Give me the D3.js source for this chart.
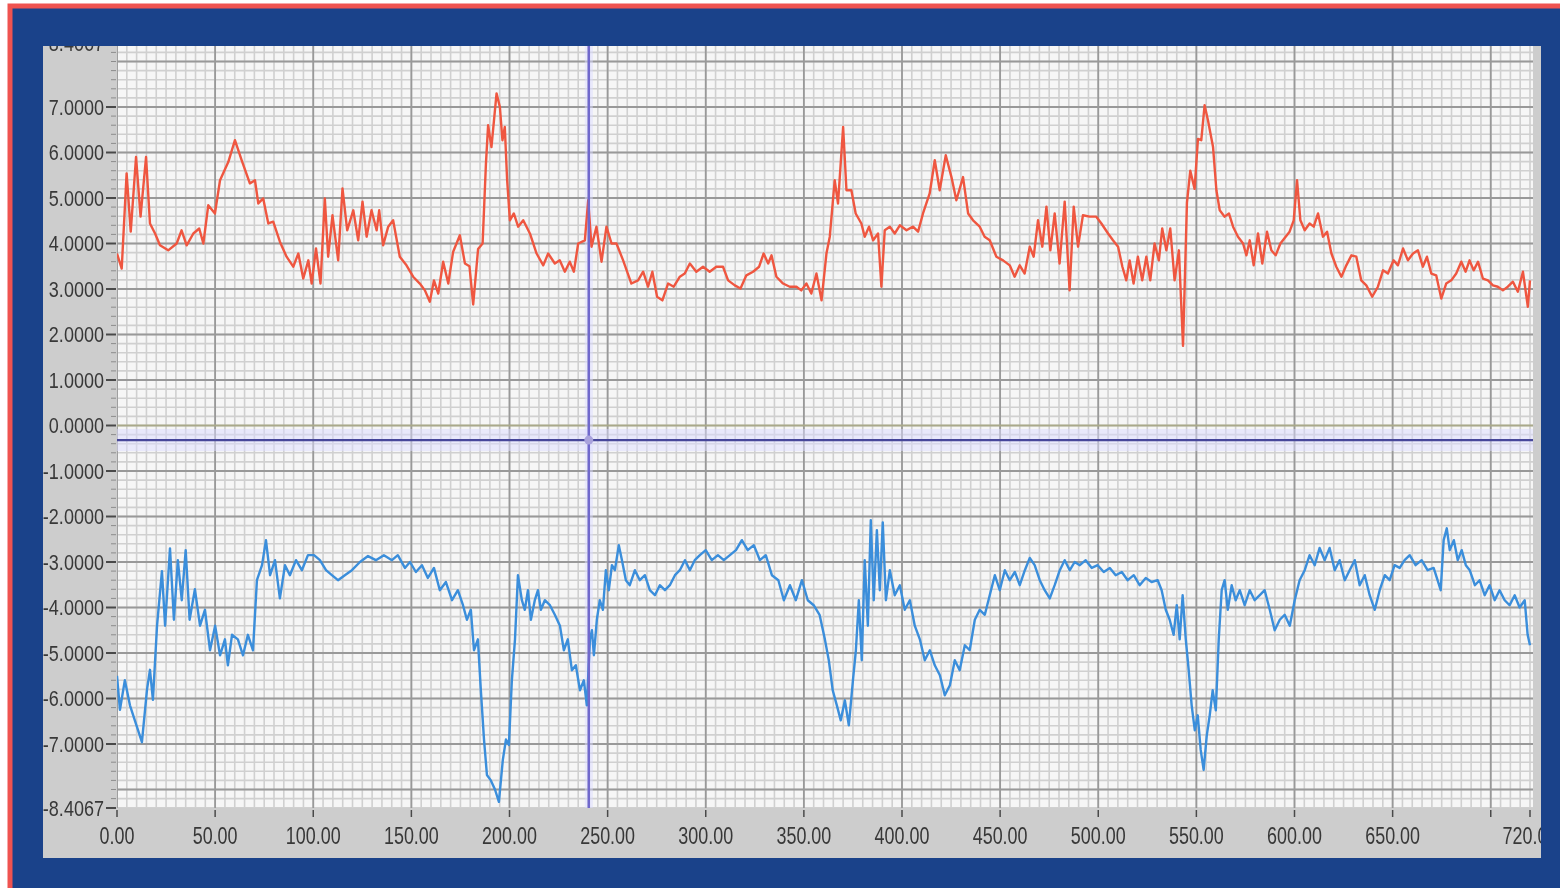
<!DOCTYPE html>
<html>
<head>
<meta charset="utf-8">
<script src="https://cdn.jsdelivr.net/npm/d3@7"></script>
<style>
  body { margin: 0; background: #fff; }
  svg { display: block; }
</style>
</head>
<body>
<svg id="chart" width="1560" height="888"></svg>
<script>
// upper trace, [x, value]
const redTrace = [
  [0,3.78],[2.4,3.45],[4.9,5.54],[7,4.26],[9.7,5.9],[12,4.59],[14.8,5.9],[16.8,4.44],[19.4,4.22],[21.9,3.96],
  [26.1,3.85],[30.4,4.0],[32.9,4.29],[35.5,3.96],[38.9,4.22],[41.9,4.33],[44,4.0],[46.5,4.84],[49.9,4.66],[52.5,5.39],
  [56.7,5.79],[60.1,6.27],[63.5,5.83],[67.7,5.32],[70.3,5.39],[72,4.88],[74.5,4.99],[77.1,4.44],[79.6,4.48],[83,4.04],
  [86.4,3.71],[89.8,3.49],[92.4,3.78],[94.9,3.23],[97.5,3.63],[99.2,3.12],[101.4,3.89],[103.7,3.12],[105.9,4.99],[107.6,3.71],
  [109.8,4.62],[112.7,3.63],[114.9,5.21],[117.3,4.29],[120.4,4.73],[122.9,4.07],[125.1,4.92],[127.2,4.15],[129.7,4.73],[132.3,4.29],
  [133.6,4.73],[135.6,3.96],[138.2,4.37],[140.7,4.51],[144.1,3.71],[147.5,3.52],[150.9,3.27],[154.3,3.12],[156.9,2.97],[159.4,2.72],
  [161.5,3.19],[163.7,2.9],[166.2,3.6],[168.8,3.12],[171.3,3.82],[174.7,4.18],[177.3,3.56],[179.6,3.5],[181.5,2.66],[184,3.88],
  [186.3,4.0],[188,5.76],[189.1,6.6],[190.8,6.12],[193.4,7.3],[195.1,7.0],[196.4,6.27],[197.6,6.56],[198.8,5.39],[200.2,4.51],
  [202.2,4.66],[204.4,4.37],[207,4.51],[210.4,4.22],[213.8,3.78],[217.2,3.52],[219.7,3.78],[223.1,3.56],[225.6,3.63],[228.2,3.38],
  [230.7,3.6],[232.8,3.38],[235,4.0],[238.4,4.07],[240.1,4.95],[241.8,3.93],[244.3,4.37],[246.9,3.6],[249.4,4.37],[252,4.0],
  [254.5,4.0],[257.9,3.63],[262.1,3.12],[265.5,3.19],[268.1,3.38],[270.6,3.05],[272.8,3.38],[275.2,2.83],[277.9,2.75],[280.8,3.12],
  [283.7,3.05],[286.8,3.27],[289.3,3.34],[291.9,3.56],[295.2,3.38],[298.6,3.49],[302,3.38],[305.4,3.49],[308.8,3.49],[311.4,3.19],
  [314.8,3.08],[317.7,3.01],[320.7,3.3],[324.1,3.38],[327.2,3.49],[329.5,3.78],[331.8,3.56],[333.5,3.74],[336,3.27],[339.4,3.12],
  [342.8,3.05],[346.2,3.05],[348.7,2.97],[351.3,3.12],[353.8,2.9],[356.4,3.34],[359,2.75],[361.5,3.78],[363.2,4.15],[365.7,5.39],
  [367.4,4.88],[370,6.56],[371.7,5.17],[374.2,5.17],[376.4,4.66],[379.3,4.44],[381,4.15],[383.2,4.37],[385.3,4.07],[387.8,4.22],
  [389.5,3.05],[391.2,4.29],[393.8,4.37],[396.3,4.22],[398.9,4.4],[402.3,4.29],[405.6,4.37],[408.2,4.26],[410.7,4.66],[414.1,5.1],
  [416.7,5.83],[419.2,5.17],[422.3,5.94],[425.2,5.46],[427.7,4.95],[431.1,5.46],[433.7,4.66],[436.2,4.51],[439.6,4.37],[442.1,4.15],
  [444.7,4.07],[448.1,3.71],[451.5,3.63],[454.9,3.52],[457.4,3.27],[460,3.52],[462.5,3.34],[465.1,3.93],[467.1,3.71],[469.3,4.51],
  [471.5,3.93],[473.6,4.81],[475.6,3.85],[477.8,4.66],[480.3,3.56],[482.9,4.92],[485.4,2.97],[487.5,4.81],[489.7,3.93],[492.2,4.62],
  [495.6,4.59],[499,4.59],[501.6,4.44],[505,4.22],[507.5,4.07],[510.1,3.93],[512.3,3.49],[514.3,3.19],[516,3.63],[518,3.12],
  [520.2,3.71],[522.4,3.19],[524.5,3.71],[526.5,3.19],[528.7,4.0],[530.9,3.63],[532.6,4.33],[534.7,3.85],[536.7,4.33],[538.9,3.19],
  [541.1,3.85],[543.2,1.75],[545.2,4.9],[546.9,5.6],[549.1,5.2],[550.8,6.3],[552.5,6.27],[554.2,7.04],[555.9,6.71],[558.5,6.12],
  [560.2,5.17],[561.9,4.73],[564.4,4.59],[566.6,4.66],[568.7,4.37],[571.2,4.15],[573.8,4.0],[575.5,3.74],[577.2,4.07],[579.2,3.52],
  [581.4,4.22],[583.6,3.56],[586,4.26],[588.2,3.85],[590.4,3.74],[592.8,4.0],[595.5,4.15],[597.5,4.26],[599.6,4.51],[601.3,5.39],
  [603,4.51],[605.2,4.29],[607.7,4.44],[609.8,4.37],[612,4.66],[614.5,4.15],[616.6,4.26],[618.8,3.78],[621.3,3.49],[623.9,3.27],
  [626.4,3.52],[629,3.74],[631.5,3.71],[634,3.19],[636.6,3.08],[639.6,2.83],[642.5,3.05],[645.1,3.41],[647.6,3.34],[650.5,3.63],
  [652.7,3.52],[655.3,3.89],[657.8,3.63],[660.4,3.78],[662.9,3.85],[665.4,3.49],[667.5,3.71],[669.7,3.34],[672.2,3.3],[674.8,2.79],
  [677.3,3.12],[679.9,3.19],[682.4,3.34],[685,3.6],[687.2,3.38],[689.2,3.63],[691.3,3.41],[693.5,3.6],[696,3.23],[698.6,3.19],
  [701.1,3.08],[703.6,3.05],[706.2,2.97],[708.7,3.05],[711.3,3.16],[713.8,2.94],[716.4,3.38],[718.9,2.61],[720,3.19]
];

// lower trace, [x, value]
const blueTrace = [
  [0,-5.5],[1.5,-6.25],[4,-5.6],[6.6,-6.15],[10,-6.6],[12.7,-6.96],[15.3,-5.8],[16.8,-5.37],[18.3,-6.03],[20.4,-4.4],
  [22.9,-3.2],[24.5,-4.4],[27,-2.7],[29,-4.27],[31,-2.96],[33,-3.84],[35,-2.74],[37,-4.27],[39.7,-3.6],[42.3,-4.4],
  [44.8,-4.05],[47.4,-4.94],[50,-4.4],[52.5,-5.05],[55,-4.7],[56.5,-5.27],[58.6,-4.6],[61.6,-4.7],[64.2,-5.05],[66.7,-4.6],
  [69.3,-4.94],[71.3,-3.4],[73.9,-3.07],[75.9,-2.52],[78,-3.29],[80.5,-2.96],[83,-3.8],[85.6,-3.07],[88.1,-3.29],[91.2,-2.96],
  [94.2,-3.18],[97.3,-2.85],[100.4,-2.85],[103.4,-2.96],[106.5,-3.18],[109.5,-3.29],[112.6,-3.4],[116.1,-3.29],[119.7,-3.18],[123.8,-3.0],
  [127.9,-2.87],[131.9,-2.96],[136,-2.85],[140.1,-2.96],[143.1,-2.85],[146.7,-3.13],[149.3,-3.0],[152.3,-3.22],[155.4,-3.07],[158.4,-3.35],
  [161.5,-3.13],[164.5,-3.62],[167.6,-3.44],[170.7,-3.84],[173.7,-3.62],[176.3,-3.95],[178.3,-4.27],[180.3,-4.05],[181.9,-4.94],[183.9,-4.7],
  [185.4,-5.82],[187,-6.9],[188.5,-7.68],[190.5,-7.8],[192.6,-8.0],[194.6,-8.27],[196.6,-7.35],[198.2,-6.9],[199.7,-7.02],[201.2,-5.6],
  [202.8,-4.7],[204.3,-3.29],[206.3,-3.84],[207.8,-4.05],[209.4,-3.62],[210.9,-4.27],[212.9,-3.84],[214.5,-3.62],[216,-4.05],[218,-3.84],
  [220.6,-3.95],[223.1,-4.16],[225.7,-4.4],[227.7,-4.94],[229.7,-4.7],[231.8,-5.38],[233.8,-5.27],[235.9,-5.82],[237.9,-5.6],[239.4,-6.15],
  [241,-4.7],[242,-4.5],[243,-5.05],[244.5,-4.27],[246,-3.84],[247.6,-4.05],[249.1,-3.18],[250.6,-3.62],[252.2,-3.07],[253.7,-3.18],
  [255.7,-2.63],[257.3,-2.96],[259.3,-3.4],[261.3,-3.51],[263.9,-3.18],[266.4,-3.4],[269,-3.29],[271.5,-3.62],[274.1,-3.73],[276.6,-3.51],
  [279.2,-3.62],[281.7,-3.51],[284.3,-3.29],[286.8,-3.18],[289.4,-2.96],[291.9,-3.18],[294.4,-2.96],[297,-2.85],[300,-2.74],[303.1,-2.96],
  [306.2,-2.85],[309.2,-2.96],[312.3,-2.85],[315.4,-2.74],[318.4,-2.52],[321.4,-2.74],[324.5,-2.63],[327.6,-2.96],[330.6,-2.85],[333.7,-3.29],
  [337,-3.4],[339.8,-3.84],[342.9,-3.51],[345.9,-3.84],[349,-3.4],[352,-3.84],[355,-3.95],[358,-4.16],[360.7,-4.7],[362.7,-5.16],
  [364.7,-5.82],[366.8,-6.15],[368.8,-6.48],[370.9,-6.04],[372.9,-6.59],[375,-5.6],[376.5,-4.94],[378,-3.84],[379.5,-5.16],[381,-2.96],
  [382.6,-4.4],[384.1,-2.08],[385.6,-3.84],[387.2,-2.3],[388.7,-3.62],[390.2,-2.13],[391.8,-3.84],[393.8,-3.18],[396.3,-3.73],[398.9,-3.51],
  [401.4,-4.05],[404,-3.84],[406.5,-4.4],[409.1,-4.7],[411.6,-5.16],[414.2,-4.94],[416.7,-5.27],[419.3,-5.49],[421.8,-5.93],[424.4,-5.71],
  [426.9,-5.16],[429.4,-5.38],[432,-4.83],[434.5,-4.94],[437.1,-4.27],[439.6,-4.05],[442.2,-4.16],[444.7,-3.73],[447.3,-3.29],[449.8,-3.62],
  [452.4,-3.18],[454.9,-3.4],[457.5,-3.22],[460,-3.51],[462.6,-3.18],[465.1,-2.91],[467.6,-3.07],[470.2,-3.4],[472.7,-3.62],[475.3,-3.8],
  [477.8,-3.51],[480.4,-3.18],[482.9,-2.96],[485.5,-3.18],[488,-3.0],[490.6,-3.07],[493.6,-2.96],[496.7,-3.13],[499.7,-3.07],[502.8,-3.22],
  [505.9,-3.13],[508.9,-3.29],[512,-3.22],[515,-3.4],[518.1,-3.29],[521.1,-3.51],[524.2,-3.35],[527.2,-3.44],[530.3,-3.4],[532.3,-3.62],
  [534.4,-4.05],[536.4,-4.27],[538.4,-4.6],[540,-3.95],[541.5,-4.7],[543,-3.73],[544.6,-4.7],[546.1,-5.38],[547.6,-6.15],[549.2,-6.7],
  [550.7,-6.37],[552.2,-7.13],[553.7,-7.57],[555.3,-6.81],[556.8,-6.37],[558.3,-5.82],[559.9,-6.26],[561.4,-4.7],[562.9,-3.62],[564.4,-3.4],
  [566,-4.05],[568,-3.51],[570,-3.84],[572.1,-3.62],[574.6,-3.95],[577.2,-3.62],[579.7,-3.84],[582.3,-3.73],[584.8,-3.62],[587.4,-4.05],
  [589.9,-4.5],[592.5,-4.27],[595,-4.16],[597.6,-4.4],[600.1,-3.84],[602.6,-3.4],[605.2,-3.18],[607.7,-2.85],[610.3,-3.07],[612.8,-2.69],
  [615.4,-2.96],[617.9,-2.69],[620.5,-3.18],[623,-2.96],[625.6,-3.4],[628.1,-3.18],[630.7,-2.96],[633.2,-3.51],[635.8,-3.29],[638.3,-3.73],
  [640.9,-4.05],[643.4,-3.62],[646,-3.29],[648.5,-3.4],[651,-3.07],[653.6,-3.13],[656.1,-2.96],[658.7,-2.85],[661.7,-3.07],[664.8,-2.96],
  [667.8,-3.18],[670.9,-3.13],[672.9,-3.4],[674.5,-3.62],[676,-2.52],[677.6,-2.26],[679.1,-2.74],[681.2,-2.52],[683.2,-2.96],[685.2,-2.74],
  [687.3,-3.07],[689.3,-3.18],[691.9,-3.51],[694.3,-3.4],[696.9,-3.73],[699.4,-3.51],[702,-3.84],[704.5,-3.62],[707.1,-3.84],[709.6,-3.95],
  [712.2,-3.73],[714.7,-4.0],[717.3,-3.84],[718.8,-4.6],[720,-4.83]
];

const yTickValues = [8.4067, 7, 6, 5, 4, 3, 2, 1, 0, -1, -2, -3, -4, -5, -6, -7, -8.4067];
const yTickLabels = ["8.4067", "7.0000", "6.0000", "5.0000", "4.0000", "3.0000", "2.0000", "1.0000", "0.0000",
  "-1.0000", "-2.0000", "-3.0000", "-4.0000", "-5.0000", "-6.0000", "-7.0000", "-8.4067"];
const xTickValues = [0, 50, 100, 150, 200, 250, 300, 350, 400, 450, 500, 550, 600, 650, 700, 720];
const xTickLabels = ["0.00", "50.00", "100.00", "150.00", "200.00", "250.00", "300.00", "350.00", "400.00",
  "450.00", "500.00", "550.00", "600.00", "650.00", "", "720.00"];

// cursor position
const cursorX = 240.4;
const cursorY = -0.32;

const svg = d3.select("#chart");

const x = d3.scaleLinear().domain([0, 720]).range([117, 1530]);
const y = d3.scaleLinear().domain([-8.4067, 8.4067]).range([808, 43]);

// frame
svg.append("rect").attr("x", 10).attr("y", 6).attr("width", 1560).attr("height", 900)
  .attr("fill", "#1a428a").attr("stroke", "#ef5350").attr("stroke-width", 5);

const defs = svg.append("defs");
defs.append("clipPath").attr("id", "panelClip")
  .append("rect").attr("x", 43).attr("y", 46).attr("width", 1498).attr("height", 812);
defs.append("clipPath").attr("id", "plotClip")
  .append("rect").attr("x", 117).attr("y", 46).attr("width", 1416).attr("height", 762);
// the source is a soft, low-res capture
defs.append("filter").attr("id", "soft")
  .append("feGaussianBlur").attr("stdDeviation", 0.55);

const panel = svg.append("g").attr("clip-path", "url(#panelClip)")
  .append("g").attr("filter", "url(#soft)");
panel.append("rect").attr("x", 40).attr("y", 43).attr("width", 1504).attr("height", 818).attr("fill", "#cdcdcd");

const plot = panel.append("g").attr("clip-path", "url(#plotClip)");
plot.append("rect").attr("x", 117).attr("y", 43).attr("width", 1416).attr("height", 765).attr("fill", "#f6f6f6");

// minor grid
const minorX = d3.range(0, 145).map(i => i * 5);
const minorY = d3.range(-42, 43).map(i => i / 5);
plot.append("g").selectAll("line").data(minorX).join("line")
  .attr("x1", d => x(d)).attr("x2", d => x(d)).attr("y1", 43).attr("y2", 808)
  .attr("stroke", "#d0d0d0").attr("stroke-width", 1.6);
plot.append("g").selectAll("line").data(minorY).join("line")
  .attr("x1", 117).attr("x2", 1533).attr("y1", d => y(d)).attr("y2", d => y(d))
  .attr("stroke", "#d0d0d0").attr("stroke-width", 1.6);

// major grid
const majorX = d3.range(0, 15).map(i => i * 50);
const majorY = d3.range(-8, 9);
plot.append("g").selectAll("line").data(majorX).join("line")
  .attr("x1", d => x(d)).attr("x2", d => x(d)).attr("y1", 43).attr("y2", 808)
  .attr("stroke", "#999").attr("stroke-width", 1.8);
plot.append("g").selectAll("line").data(majorY).join("line")
  .attr("x1", 117).attr("x2", 1533).attr("y1", d => y(d)).attr("y2", d => y(d))
  .attr("stroke", d => d === 0 ? "#a9a98a" : "#999").attr("stroke-width", 1.8);

// cursor highlight bands
plot.append("rect").attr("x", 117).attr("y", y(cursorY) - 11).attr("width", 1416).attr("height", 22)
  .attr("fill", "#dcdcff").attr("opacity", 0.5);
plot.append("rect").attr("x", x(cursorX) - 4).attr("y", 43).attr("width", 8).attr("height", 765)
  .attr("fill", "#dcdcff").attr("opacity", 0.5);

const line = d3.line().x(d => x(d[0])).y(d => y(d[1]));

plot.append("path").datum(redTrace).attr("d", line)
  .attr("fill", "none").attr("stroke", "#ef5740").attr("stroke-width", 2.4).attr("stroke-linejoin", "round");
plot.append("path").datum(blueTrace).attr("d", line)
  .attr("fill", "none").attr("stroke", "#3b8edb").attr("stroke-width", 2.4).attr("stroke-linejoin", "round");

// cursor lines
plot.append("line").attr("x1", 117).attr("x2", 1533).attr("y1", y(cursorY)).attr("y2", y(cursorY))
  .attr("stroke", "#46469a").attr("stroke-width", 2.2);
plot.append("line").attr("x1", x(cursorX)).attr("x2", x(cursorX)).attr("y1", 43).attr("y2", 808)
  .attr("stroke", "#6f68cc").attr("stroke-width", 2.5);
plot.append("circle").attr("cx", x(cursorX)).attr("cy", y(cursorY)).attr("r", 4.5)
  .attr("fill", "#a9a2dc");

// y axis ticks
const yMinor = d3.range(-42, 43).map(i => i / 5);
panel.append("g").selectAll("line").data(yMinor).join("line")
  .attr("x1", 111).attr("x2", 116).attr("y1", d => y(d)).attr("y2", d => y(d))
  .attr("stroke", "#8c8c8c").attr("stroke-width", 1);
panel.append("g").selectAll("line").data(yTickValues).join("line")
  .attr("x1", 106).attr("x2", 116).attr("y1", d => y(d)).attr("y2", d => y(d))
  .attr("stroke", "#4a4a4a").attr("stroke-width", 2);

panel.append("g").selectAll("g").data(yTickValues).join("g")
  .attr("transform", d => `translate(104,${y(d)}) scale(0.82,1)`)
  .append("text")
  .attr("text-anchor", "end").attr("dy", "0.36em")
  .attr("font-family", "'Liberation Sans', Arial, sans-serif").attr("font-size", 22)
  .attr("fill", "#383838")
  .text((d, i) => yTickLabels[i]);

// x axis ticks
panel.append("g").selectAll("line").data(xTickValues).join("line")
  .attr("x1", d => x(d)).attr("x2", d => x(d)).attr("y1", 810).attr("y2", 817)
  .attr("stroke", "#4a4a4a").attr("stroke-width", 1.5);

panel.append("g").selectAll("g").data(xTickValues).join("g")
  .attr("transform", d => `translate(${x(d)},836) scale(0.78,1)`)
  .append("text")
  .attr("text-anchor", "middle").attr("dy", "0.36em")
  .attr("font-family", "'Liberation Sans', Arial, sans-serif").attr("font-size", 23)
  .attr("fill", "#383838")
  .text((d, i) => xTickLabels[i]);
</script>
</body>
</html>
